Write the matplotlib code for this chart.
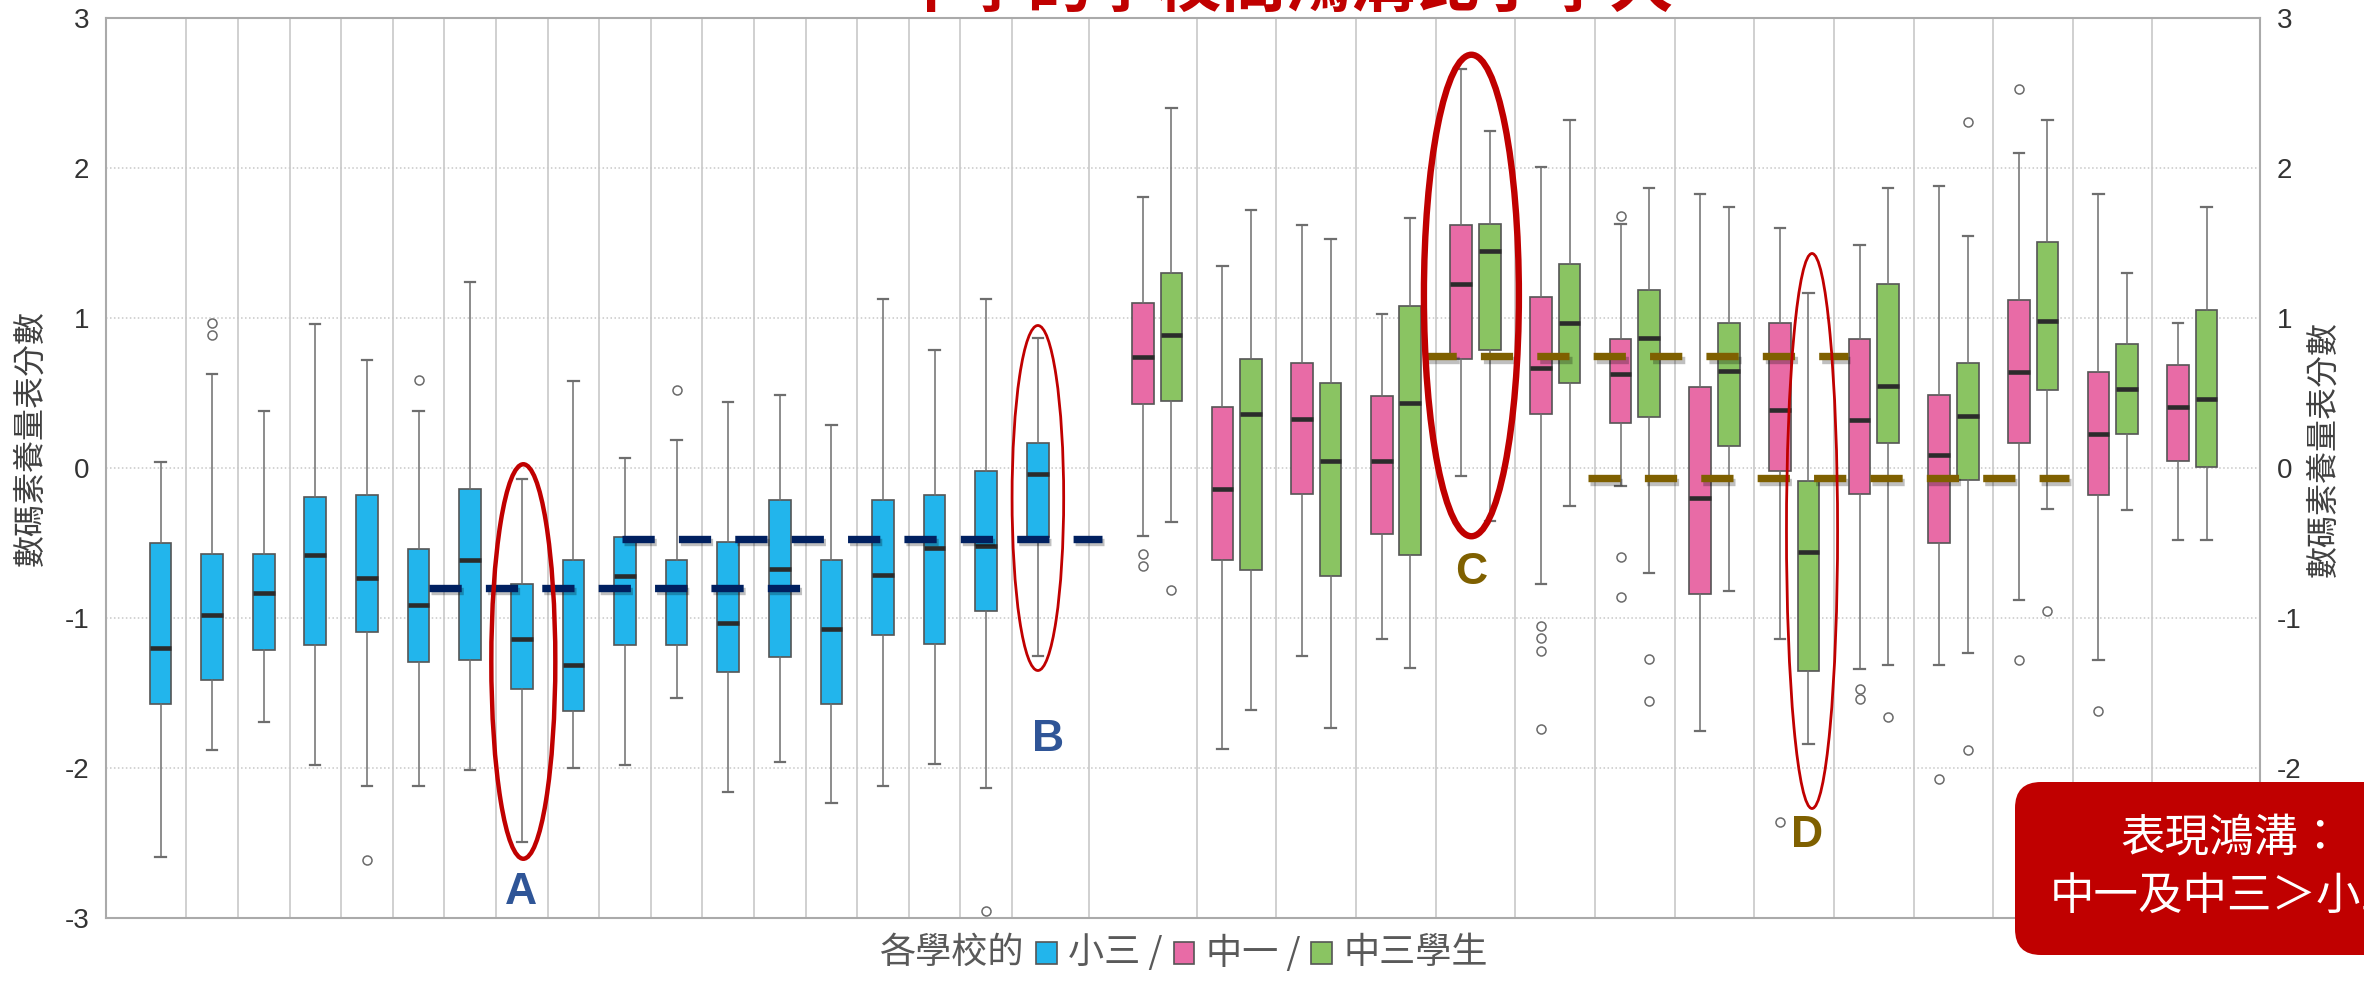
import numpy as np
import matplotlib
matplotlib.use("Agg")
import matplotlib.pyplot as plt
import matplotlib.patheffects as pe
from matplotlib.patches import Ellipse, FancyBboxPatch, Rectangle
from matplotlib.offsetbox import TextArea, DrawingArea, HPacker, AnchoredOffsetbox
from matplotlib.transforms import IdentityTransform

CJK = ['Noto Sans CJK TC', 'DejaVu Sans']
plt.rcParams['font.family'] = ['Liberation Sans', 'Noto Sans CJK TC', 'DejaVu Sans']

# ---- data: primary 3 (小三), 18 schools ----
p3_hi = [0.04, 0.63, 0.38, 0.96, 0.72, 0.38, 1.24, -0.07, 0.58, 0.07, 0.19, 0.44, 0.49, 0.29, 1.13, 0.79, 1.13, 0.87]
p3_q3 = [-0.50, -0.57, -0.57, -0.19, -0.18, -0.54, -0.14, -0.77, -0.61, -0.46, -0.61, -0.49, -0.21, -0.61, -0.21, -0.18, -0.02, 0.17]
p3_med = [-1.20, -0.98, -0.83, -0.58, -0.73, -0.91, -0.61, -1.14, -1.31, -0.72, -0.79, -1.03, -0.67, -1.07, -0.71, -0.53, -0.52, -0.04]
p3_q1 = [-1.57, -1.41, -1.21, -1.18, -1.09, -1.29, -1.28, -1.47, -1.62, -1.18, -1.18, -1.36, -1.26, -1.57, -1.11, -1.17, -0.95, -0.46]
p3_lo = [-2.59, -1.88, -1.69, -1.98, -2.12, -2.12, -2.01, -2.49, -2.00, -1.98, -1.53, -2.16, -1.96, -2.23, -2.12, -1.97, -2.13, -1.25]
p3_fl = [[], [0.97, 0.89], [], [], [-2.61], [0.59], [], [], [], [], [0.52], [], [], [], [], [], [-2.95], []]

# ---- data: secondary 1 (中一), 14 schools ----
s1_hi = [1.81, 1.35, 1.62, 1.03, 2.66, 2.01, 1.63, 1.83, 1.60, 1.49, 1.88, 2.10, 1.83, 0.97]
s1_q3 = [1.10, 0.41, 0.70, 0.48, 1.62, 1.14, 0.86, 0.54, 0.965, 0.86, 0.49, 1.12, 0.64, 0.685]
s1_med = [0.74, -0.14, 0.33, 0.05, 1.23, 0.67, 0.63, -0.20, 0.39, 0.32, 0.085, 0.64, 0.23, 0.41]
s1_q1 = [0.43, -0.61, -0.17, -0.44, 0.73, 0.36, 0.30, -0.84, -0.02, -0.175, -0.50, 0.165, -0.18, 0.045]
s1_lo = [-0.45, -1.87, -1.25, -1.14, -0.05, -0.77, -0.12, -1.75, -1.14, -1.34, -1.31, -0.88, -1.28, -0.48]
s1_fl = [[-0.57, -0.65], [], [], [], [], [-1.05, -1.13, -1.22, -1.74], [1.68, -0.59, -0.86], [], [-2.36],
         [-1.47, -1.54], [-2.07], [2.53, -1.28], [-1.62], []]

# ---- data: secondary 3 (中三), 14 schools ----
s3_hi = [2.40, 1.72, 1.53, 1.67, 2.25, 2.32, 1.87, 1.74, 1.17, 1.87, 1.55, 2.32, 1.30, 1.74]
s3_q3 = [1.30, 0.73, 0.57, 1.08, 1.63, 1.36, 1.19, 0.97, -0.085, 1.23, 0.70, 1.51, 0.83, 1.055]
s3_med = [0.89, 0.36, 0.05, 0.435, 1.45, 0.97, 0.87, 0.65, -0.56, 0.55, 0.35, 0.98, 0.53, 0.46]
s3_q1 = [0.45, -0.68, -0.72, -0.58, 0.79, 0.57, 0.34, 0.15, -1.35, 0.165, -0.08, 0.52, 0.23, 0.01]
s3_lo = [-0.36, -1.61, -1.73, -1.33, -0.35, -0.25, -0.70, -0.82, -1.84, -1.31, -1.23, -0.275, -0.28, -0.48]
s3_fl = [[-0.81], [], [], [], [], [], [-1.27, -1.55], [], [], [-1.66], [2.31, -1.88], [-0.95], [], []]

# reference levels drawn as dashed lines (y value, x start, x end in school units)
navy_levels = [(-0.80, 5.20, 12.84), (-0.47, 8.94, 18.24)]
olive_levels = [(0.746, 24.49, 32.70), (-0.069, 27.66, 36.97)]

y_ticks = [-3, -2, -1, 0, 1, 2, 3]
title = "中學的學校間鴻溝比小學大"
ylabel = "數碼素養量表分數"
note_lines = ["表現鴻溝：", "中一及中三＞小三"]

BLUE, PINK, GREEN = '#22B5EC', '#E86BA6', '#8AC462'
RED = '#C00000'

W, H = 2364, 981
fig = plt.figure(figsize=(W / 100, H / 100), dpi=100)
ax = fig.add_axes([106 / W, 1 - 918 / H, (2260 - 106) / W, 900 / H])


def make_stats(lo, q1, med, q3, hi, fl):
    return [dict(whislo=a, q1=b, med=c, q3=d, whishi=e, fliers=f)
            for a, b, c, d, e, f in zip(lo, q1, med, q3, hi, fl)]


# positions (layout)
x_p3 = np.arange(len(p3_med))
pair_c = 19.31 + 1.543 * np.arange(len(s1_med))
x_s1 = pair_c - 0.277
x_s3 = pair_c + 0.277

common = dict(widths=0.42, capwidths=0.2, patch_artist=True, manage_ticks=False,
              medianprops=dict(color='#2b2b2b', lw=3.3, solid_capstyle='butt'),
              whiskerprops=dict(color='#6e6e6e', lw=1.1),
              capprops=dict(color='#6e6e6e', lw=1.6),
              flierprops=dict(marker='o', mfc='none', mec='#6a6a6a', ms=6.5, mew=1.1),
              zorder=3)

for st, pos, col in [(make_stats(p3_lo, p3_q1, p3_med, p3_q3, p3_hi, p3_fl), x_p3, BLUE),
                     (make_stats(s1_lo, s1_q1, s1_med, s1_q3, s1_hi, s1_fl), x_s1, PINK),
                     (make_stats(s3_lo, s3_q1, s3_med, s3_q3, s3_hi, s3_fl), x_s3, GREEN)]:
    ax.bxp(st, positions=pos, boxprops=dict(facecolor=col, edgecolor='#555555', lw=1.2), **common)

# vertical separators between schools
vlines = list(np.arange(len(p3_med) - 1) + 0.5) + [18.0] + list(20.08 + 1.543 * np.arange(13))
for xv in vlines:
    ax.axvline(xv, color='#c4c4c4', lw=1.1, zorder=0.5)
for yv in [-2, -1, 0, 1, 2]:
    ax.axhline(yv, color='#c8c8c8', lw=1.1, ls=(0, (1, 1.6)), zorder=0.5)

ax.set_xlim(-1.056, 40.68)
ax.set_ylim(-3, 3)
ax.set_xticks([])
ax.set_yticks(y_ticks)
ax.set_yticklabels([str(t) for t in y_ticks])
ax.tick_params(axis='y', length=0, pad=12, labelsize=20, labelcolor='#333333',
               labelright=True)
for sp in ax.spines.values():
    sp.set_color('#aaaaaa')
    sp.set_linewidth(1.5)

# dashed reference levels with soft shadow
shadow = [pe.SimpleLineShadow(offset=(1.5, -2.5), shadow_color='black', alpha=0.25), pe.Normal()]
for col, levels in [('#002060', navy_levels), ('#7F6000', olive_levels)]:
    for yv, x0, x1 in levels:
        ax.plot([x0, x1], [yv, yv], color=col, lw=5.3, ls=(0, (4.38, 3.28)),
                dash_capstyle='butt', path_effects=shadow, zorder=5)

# red ellipses + letters
for (cx, cy, w, h, lw) in [(7.03, -1.29, 1.24, 2.63, 3.2), (17.0, -0.20, 1.0, 2.3, 2.0),
                           (25.4, 1.15, 1.84, 3.21, 4.6), (32.0, -0.42, 0.99, 3.7, 2.0)]:
    ax.add_patch(Ellipse((cx, cy), w, h, fill=False, ec=RED, lw=lw, zorder=6))
for (lx, ly, s, c) in [(6.99, -2.83, 'A', '#2F5597'), (17.2, -1.81, 'B', '#2F5597'),
                       (25.4, -0.70, 'C', '#7F6000'), (31.9, -2.45, 'D', '#7F6000')]:
    ax.text(lx, ly, s, color=c, fontsize=32, fontweight='bold', ha='center', va='center',
            family='Liberation Sans', zorder=7)

# axis titles
fig.text(30 / W, 1 - 438 / H, ylabel, rotation=90, ha='center', va='center',
         fontsize=23, color='#404040', family=CJK)
fig.text(2323 / W, 1 - 449 / H, ylabel, rotation=90, ha='center', va='center',
         fontsize=23, color='#404040', family=CJK)

# chart title (cut off by the top edge)
fig.text(1286 / W, 1 - 20 / H, title, ha='center', va='bottom', fontsize=46.5,
         color=RED, fontweight='bold', family=CJK)

# bottom legend-like caption
tp = dict(fontsize=26, color='#595959', family=CJK)


def swatch(c):
    da = DrawingArea(15, 16, 0, 0)
    da.add_artist(Rectangle((0, 0), 15, 16, fc=c, ec='#555555', lw=1.2))
    return da


pack = HPacker(children=[TextArea("各學校的", textprops=tp), swatch(BLUE),
                         TextArea("小三 /", textprops=tp), swatch(PINK),
                         TextArea("中一 /", textprops=tp), swatch(GREEN),
                         TextArea("中三學生", textprops=tp)],
               align='center', pad=0, sep=8)
fig.add_artist(AnchoredOffsetbox(loc='center', child=pack, frameon=False, pad=0, borderpad=0,
                                 bbox_to_anchor=(1184 / W, 1 - 953 / H),
                                 bbox_transform=fig.transFigure))

# red note box at lower right (runs off the edge)
box = FancyBboxPatch((2015, H - 955), 420, 173, boxstyle='round,pad=0,rounding_size=26',
                     fc=RED, ec='none', transform=IdentityTransform(), zorder=10)
fig.add_artist(box)
fig.text(2120 / W, 1 - 838 / H, note_lines[0], ha='left', va='center', fontsize=32,
         color='white', family=CJK, fontweight='light', zorder=11)
fig.text(2050 / W, 1 - 897 / H, note_lines[1], ha='left', va='center', fontsize=32,
         color='white', family=CJK, fontweight='light', zorder=11)

fig.savefig('out.png', dpi=100)
